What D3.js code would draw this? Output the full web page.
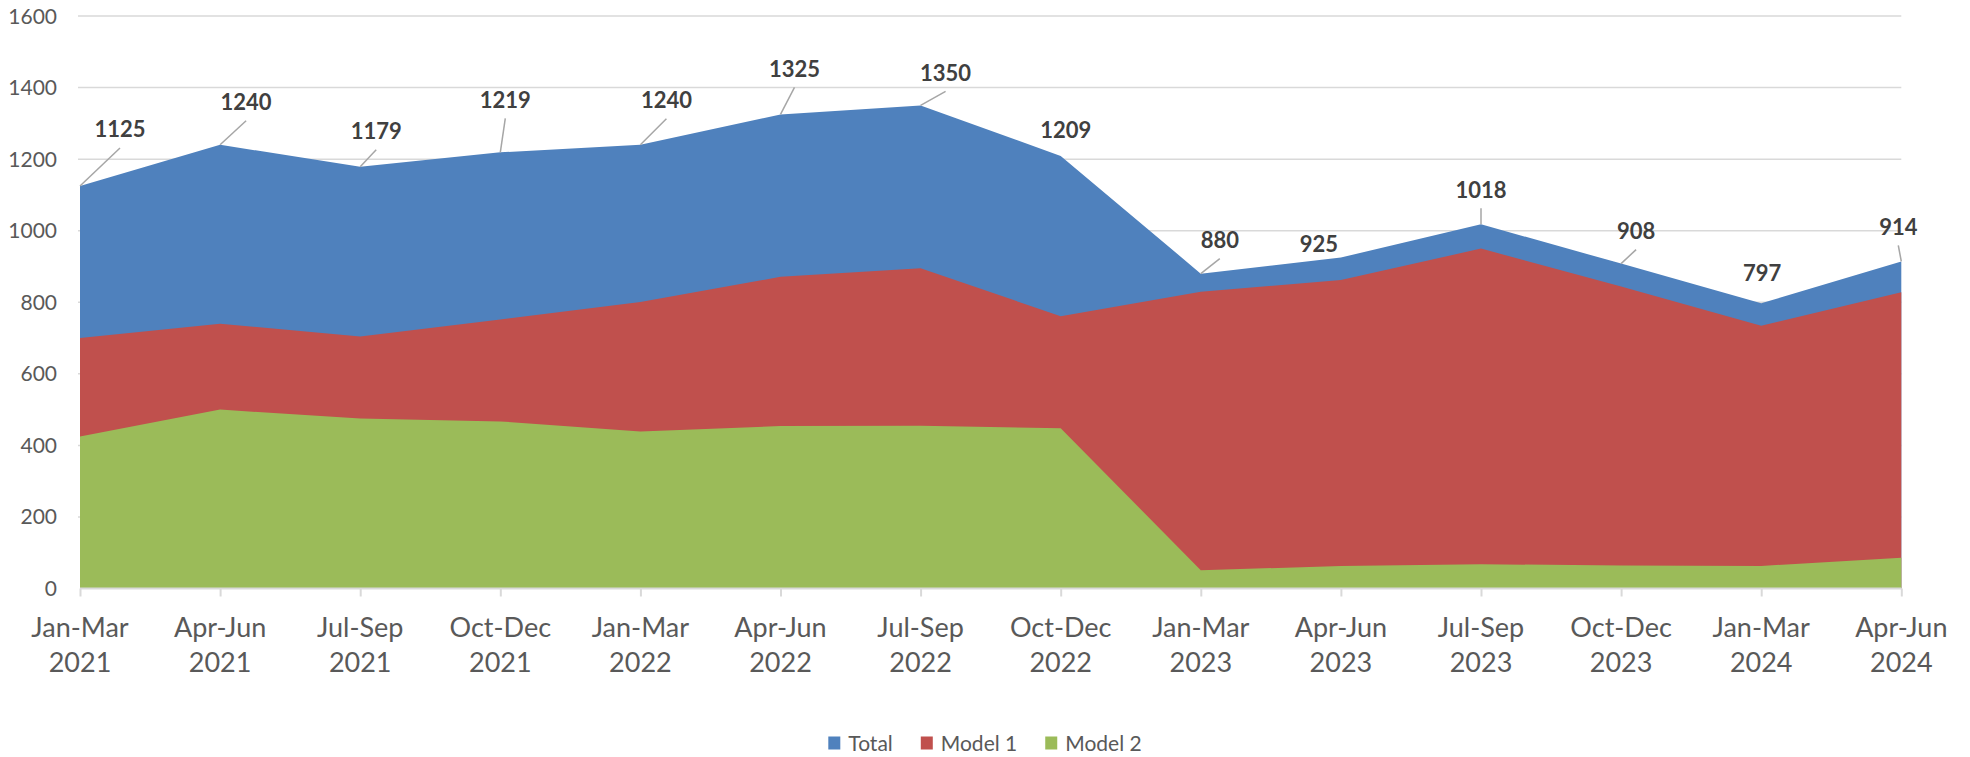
<!DOCTYPE html>
<html>
<head>
    <title>Total, Model 1 and Model 2 by quarter</title>
    <script src="https://d3js.org/d3.v7.min.js"></script>
    <style>
        body { margin: 0; background: #fff; }
        text { font-family: Lato, "Noto Sans", sans-serif; }
    </style>
</head>
<body>
    <script>
// quarters on the x axis (two lines each)
const categories = ["Jan-Mar 2021", "Apr-Jun 2021", "Jul-Sep 2021", "Oct-Dec 2021",
                    "Jan-Mar 2022", "Apr-Jun 2022", "Jul-Sep 2022", "Oct-Dec 2022",
                    "Jan-Mar 2023", "Apr-Jun 2023", "Jul-Sep 2023", "Oct-Dec 2023",
                    "Jan-Mar 2024", "Apr-Jun 2024"];

// series values (Total is labelled)
const total  = [1125, 1240, 1179, 1219, 1240, 1325, 1350, 1209, 880, 925, 1018, 908, 797, 914];
const model1 = [700, 740, 704, 752, 801, 871, 895, 761, 829, 862, 950, 844, 734, 828];
const model2 = [425, 500, 475, 467, 439, 454, 455, 448, 51, 63, 68, 64, 63, 86];

const yTicks = [0, 200, 400, 600, 800, 1000, 1200, 1400, 1600];

const seriesNames = ["Total", "Model 1", "Model 2"];
const colors = ["#4f81bd", "#c0504d", "#9bbb59"];

// where each Total label sits relative to its point (px), and if it gets a leader line
const labelOffsets = [[40, -56], [26, -42], [16, -35], [5, -52], [26, -44], [14, -45], [25, -32],
                      [5, -25], [19, -33], [-22, -13], [0, -34], [15, -32], [1, -30], [-3, -34]];
const hasLeader = [true, true, true, true, true, true, true,
                   false, true, false, true, true, false, true];

const width = 1970, height = 757;

let svg = d3.select("body")
    .append("svg")
    .attr("width", width)
    .attr("height", height);

let x = d3.scalePoint()
    .domain(categories)
    .range([80, 1901.3]);

let y = d3.scaleLinear()
    .domain([0, 1600])
    .range([588.5, 16]);

// gridlines
svg.append("g")
    .selectAll("line")
    .data(yTicks.slice(1))
    .enter()
    .append("line")
    .attr("x1", 78)
    .attr("x2", 1901.3)
    .attr("y1", d => y(d))
    .attr("y2", d => y(d))
    .attr("stroke", "#d9d9d9")
    .attr("stroke-width", 1.5);

// y tick labels
svg.append("g")
    .selectAll("text")
    .data(yTicks)
    .enter()
    .append("text")
    .attr("x", 57)
    .attr("y", d => y(d) + 7.5)
    .attr("text-anchor", "end")
    .attr("font-size", 21)
    .attr("fill", "#595959")
    .text(d => d);

// areas, not stacked: Total behind, then Model 1, then Model 2
let area = d3.area()
    .x((d, i) => x(categories[i]))
    .y0(y(0))
    .y1(d => y(d));

[total, model1, model2].forEach((values, k) => {
    svg.append("path")
        .datum(values)
        .attr("d", area)
        .attr("fill", colors[k]);
});

// x axis
let xAxis = d3.axisBottom(x)
    .tickSize(8)
    .tickFormat("");

let axisG = svg.append("g")
    .attr("transform", "translate(0," + y(0) + ")")
    .call(xAxis);
axisG.select(".domain").attr("stroke", "#d9d9d9").attr("stroke-width", 2)
    .attr("d", "M80,0H1901.3");
axisG.selectAll(".tick line").attr("stroke", "#d9d9d9").attr("stroke-width", 2);

// x labels on two lines
let xLabels = svg.append("g")
    .selectAll("text")
    .data(categories)
    .enter()
    .append("text")
    .attr("text-anchor", "middle")
    .attr("font-size", 27)
    .attr("fill", "#595959");

xLabels.append("tspan")
    .attr("x", d => x(d))
    .attr("y", 637)
    .text(d => d.split(" ")[0]);
xLabels.append("tspan")
    .attr("x", d => x(d))
    .attr("y", 672)
    .text(d => d.split(" ")[1]);

// leader lines and Total labels
let points = total.map((v, i) => ({ v: v, i: i }));

svg.append("g")
    .selectAll("line")
    .data(points.filter(d => hasLeader[d.i]))
    .enter()
    .append("line")
    .attr("x1", d => x(categories[d.i]))
    .attr("y1", d => y(d.v))
    .attr("x2", d => x(categories[d.i]) + labelOffsets[d.i][0])
    .attr("y2", d => y(d.v) + labelOffsets[d.i][1] + 18)
    .attr("stroke", "#a6a6a6")
    .attr("stroke-width", 1.5);

svg.append("g")
    .selectAll("text")
    .data(points)
    .enter()
    .append("text")
    .attr("x", d => x(categories[d.i]) + labelOffsets[d.i][0])
    .attr("y", d => y(d.v) + labelOffsets[d.i][1] + 7.5)
    .attr("text-anchor", "middle")
    .attr("font-size", 22)
    .attr("font-weight", "bold")
    .attr("fill", "#404040")
    .text(d => d.v);

// legend, centred under the chart
let legend = svg.append("g");
let lx = 0;
seriesNames.forEach((name, k) => {
    let g = legend.append("g").attr("transform", "translate(" + lx + ",0)");
    g.append("rect")
        .attr("x", 0)
        .attr("y", 736.5)
        .attr("width", 12)
        .attr("height", 13)
        .attr("fill", colors[k]);
    let t = g.append("text")
        .attr("x", 20)
        .attr("y", 751)
        .attr("font-size", 21)
        .attr("fill", "#595959")
        .text(name);
    lx += 20 + t.node().getComputedTextLength() + 28;
});
let legendWidth = lx - 28;
legend.attr("transform", "translate(" + (985 - legendWidth / 2) + ",0)");

    </script>
</body>
</html>
